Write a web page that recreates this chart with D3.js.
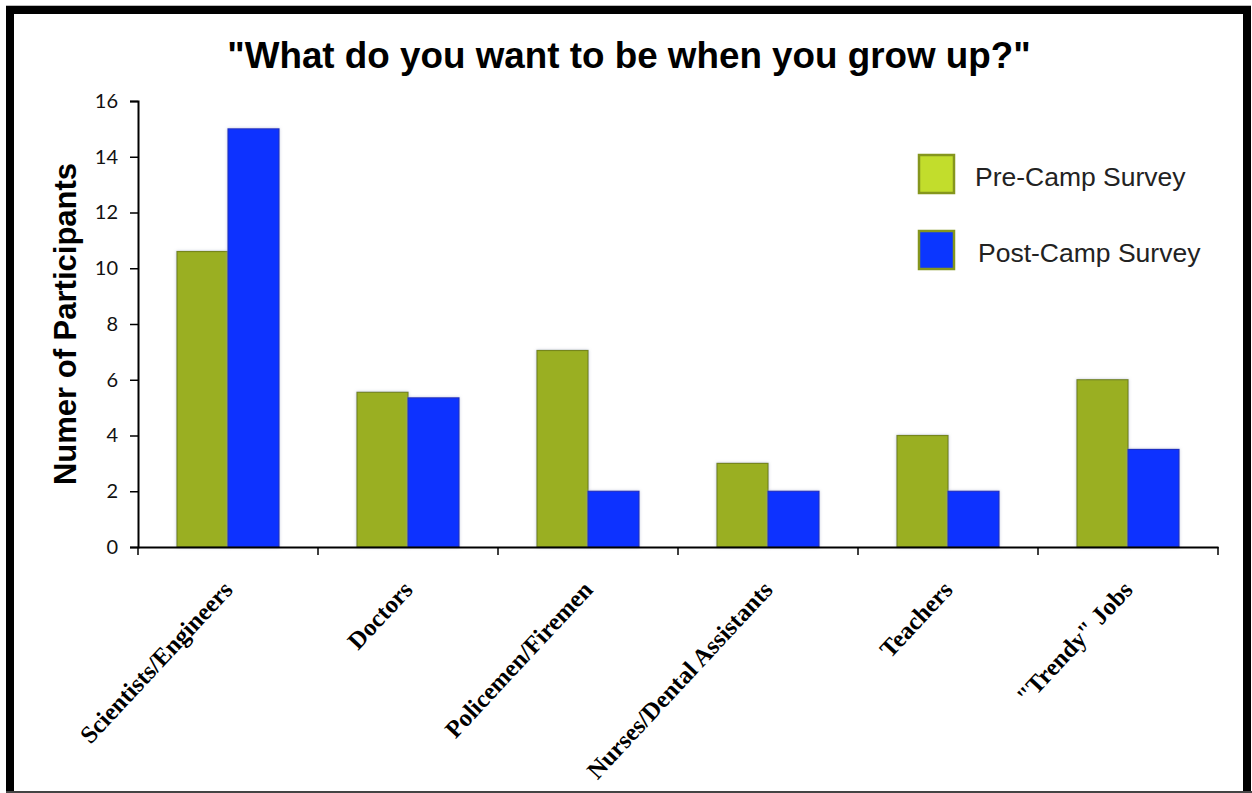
<!DOCTYPE html>
<html>
<head>
<meta charset="utf-8">
<script src="https://cdn.jsdelivr.net/npm/d3@7"></script>
<style>
  html, body { margin: 0; padding: 0; background: #fff; }
  svg { display: block; }
</style>
</head>
<body>
<div id="chart"></div>
<script>
// ─── Data ────────────────────────────────────────────────────────────────────
const categories = [
  'Scientists/Engineers', 'Doctors', 'Policemen/Firemen',
  'Nurses/Dental Assistants', 'Teachers', '"Trendy" Jobs'
]
const seriesNames = ['Pre-Camp Survey', 'Post-Camp Survey']
const preCamp  = [10.6, 5.55, 7.05, 3, 4, 6]
const postCamp = [15, 5.35, 2, 2, 2, 3.5]
const yTicks = [0, 2, 4, 6, 8, 10, 12, 14, 16]

const title = '"What do you want to be when you grow up?"'
const yTitle = 'Numer of Participants'

// ─── Layout ──────────────────────────────────────────────────────────────────
const W = 1252, H = 793
const plot = { left: 138, right: 1218, top: 101, bottom: 547 }

const FILL = ['#9aaf24', '#0b33ff']
const EDGE = ['#76861a', '#1d2fc4']
const SWATCH = ['#c2dd2c', '#0b36ff']

const svg = d3.select('#chart').append('svg')
  .attr('width', W).attr('height', H)

const defs = svg.append('defs')
const f = defs.append('filter').attr('id', 'glow')
  .attr('x', '-20%').attr('y', '-10%').attr('width', '140%').attr('height', '120%')
f.append('feGaussianBlur').attr('in', 'SourceAlpha').attr('stdDeviation', 1.6).attr('result', 'b')
f.append('feFlood').attr('flood-color', '#9aa3c0').attr('flood-opacity', 0.6)
f.append('feComposite').attr('in2', 'b').attr('operator', 'in').attr('result', 's')
const m = f.append('feMerge')
m.append('feMergeNode').attr('in', 's')
m.append('feMergeNode').attr('in', 'SourceGraphic')

// ── Frame ────────────────────────────────────────────────────────────────────
svg.append('line').attr('x1', 6).attr('x2', 1251).attr('y1', 6).attr('y2', 6)
  .attr('stroke', '#777').attr('stroke-width', 1)
svg.append('path')
  .attr('d', 'M10,793 V10 H1247 V793')
  .attr('fill', 'none').attr('stroke', '#000').attr('stroke-width', 8)
svg.append('line').attr('x1', 6).attr('x2', 1252).attr('y1', 792).attr('y2', 792)
  .attr('stroke', '#444').attr('stroke-width', 2)

// ── Scales ───────────────────────────────────────────────────────────────────
const x0 = d3.scaleBand().domain(categories).range([plot.left, plot.right])
const x1 = d3.scaleBand().domain(seriesNames).range([39, x0.bandwidth() - 39])
const y = d3.scaleLinear().domain([0, 16]).range([plot.bottom, plot.top])

// ── Bars ─────────────────────────────────────────────────────────────────────
const rows = categories.map((c, i) => ({ cat: c, vals: [preCamp[i], postCamp[i]] }))

const groups = svg.append('g').selectAll('g')
  .data(rows)
  .join('g')
  .attr('transform', d => `translate(${x0(d.cat)},0)`)

groups.selectAll('rect')
  .data(d => d.vals.map((v, k) => ({ v, k })))
  .join('rect')
  .attr('x', d => x1(seriesNames[d.k]))
  .attr('y', d => y(d.v))
  .attr('width', x1.bandwidth())
  .attr('height', d => y(0) - y(d.v))
  .attr('fill', d => FILL[d.k])
  .attr('stroke', d => EDGE[d.k])
  .attr('stroke-width', 1.2)
  .attr('filter', 'url(#glow)')

// ── Axes ─────────────────────────────────────────────────────────────────────
const yAxis = svg.append('g')
  .attr('transform', `translate(${plot.left},0)`)
  .call(d3.axisLeft(y).tickValues(yTicks).tickSize(8).tickPadding(12))
yAxis.select('.domain').attr('stroke-width', 2)
yAxis.selectAll('line').attr('stroke-width', 1.5)
yAxis.selectAll('text')
  .attr('font-family', 'Lato, "Liberation Sans", sans-serif')
  .attr('font-size', 20)
  .attr('fill', '#111')

const xAxis = svg.append('g')
  .attr('transform', `translate(0,${plot.bottom})`)
  .call(d3.axisBottom(x0).tickValues([]).tickSizeOuter(0))
xAxis.select('.domain').attr('stroke-width', 2)

// category boundary ticks
const bounds = [...categories.map(c => x0(c)), plot.right]
svg.append('g').selectAll('line')
  .data(bounds)
  .join('line')
  .attr('x1', d => d).attr('x2', d => d)
  .attr('y1', plot.bottom).attr('y2', plot.bottom + 8)
  .attr('stroke', '#000').attr('stroke-width', 1.5)

// rotated category labels
svg.append('g').selectAll('text')
  .data(categories)
  .join('text')
  .attr('transform', d => `translate(${x0(d) + x0.bandwidth() / 2 + 6},${plot.bottom + 44}) rotate(-47)`)
  .attr('text-anchor', 'end')
  .attr('font-family', '"Liberation Serif", "Times New Roman", serif')
  .attr('font-weight', 'bold')
  .attr('font-size', 24.6)
  .attr('fill', '#000')
  .text(d => d)

// ── Titles ───────────────────────────────────────────────────────────────────
svg.append('text')
  .attr('x', 629).attr('y', 68)
  .attr('text-anchor', 'middle')
  .attr('font-family', '"Liberation Sans", Arial, sans-serif')
  .attr('font-weight', 'bold')
  .attr('font-size', 36.8)
  .text(title)

svg.append('text')
  .attr('transform', `translate(76,${(158 + 490) / 2}) rotate(-90)`)
  .attr('text-anchor', 'middle')
  .attr('font-family', '"Liberation Sans", Arial, sans-serif')
  .attr('font-weight', 'bold')
  .attr('font-size', 31)
  .text(yTitle)

// ── Legend ───────────────────────────────────────────────────────────────────
const legend = svg.append('g').selectAll('g')
  .data(seriesNames)
  .join('g')
  .attr('transform', (d, i) => `translate(919,${155 + i * 76})`)

legend.append('rect')
  .attr('width', 35).attr('height', 38)
  .attr('fill', (d, i) => SWATCH[i])
  .attr('stroke', '#85961d').attr('stroke-width', 2.5)

legend.append('text')
  .attr('x', (d, i) => 56 + i * 3).attr('y', 31)
  .attr('font-family', '"Liberation Sans", Arial, sans-serif')
  .attr('font-size', 26.5)
  .attr('fill', '#222')
  .text(d => d)
</script>
</body>
</html>
